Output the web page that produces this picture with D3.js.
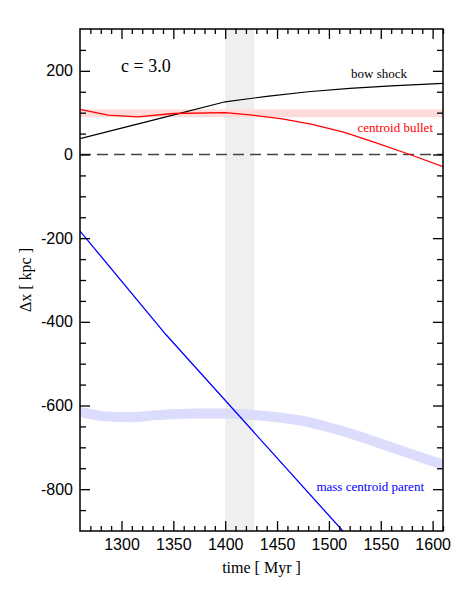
<!DOCTYPE html>
<html>
<head>
<meta charset="utf-8">
<script src="https://cdn.jsdelivr.net/npm/d3@7"></script>
<style>
  body { margin: 0; background: #fff; }
  svg { display: block; }
</style>
</head>
<body>
<div id="chart"></div>
<script>
// time [Myr] and offset [kpc]
const bowTime = [1260, 1300, 1340, 1400, 1440, 1480, 1520, 1560, 1610]
const bowVal = [38, 63, 88, 126, 139, 150, 158, 164, 170]

const bulletTime = [1260, 1287, 1316, 1350, 1400, 1426, 1455, 1484, 1515, 1542, 1578, 1610]
const bulletVal = [108, 94, 90, 98, 100, 94, 85, 72, 53, 31, 0, -29]

const parentTime = [1260, 1343, 1520]
const parentVal = [-183, -431, -918]

const bandTime = [1260, 1285, 1310, 1335, 1370, 1400, 1425, 1450, 1475, 1500, 1530, 1560, 1590, 1610]
const bandVal = [-615, -626, -628, -623, -619, -619, -622, -628, -637, -652, -674, -700, -725, -742]

const bulletBand = [89, 108]
const shadeTime = [1400, 1428]

const xMajor = [1300, 1350, 1400, 1450, 1500, 1550, 1600]
const yMajor = [-800, -600, -400, -200, 0, 200]

const W = 472, H = 591
const m = {left: 80, right: 29, top: 29, bottom: 60}

const svg = d3.select('#chart').append('svg')
  .attr('width', W).attr('height', H)

const x = d3.scaleLinear().domain([1260, 1610]).range([m.left, W - m.right])
const y = d3.scaleLinear().domain([-900, 300]).range([H - m.bottom, m.top])

svg.append('defs').append('clipPath').attr('id', 'clip')
  .append('rect')
  .attr('x', x.range()[0]).attr('y', y.range()[1])
  .attr('width', x.range()[1] - x.range()[0])
  .attr('height', y.range()[0] - y.range()[1])

const plot = svg.append('g').attr('clip-path', 'url(#clip)')

// grey time window
plot.append('rect')
  .attr('x', x(shadeTime[0])).attr('width', x(shadeTime[1]) - x(shadeTime[0]))
  .attr('y', y(300)).attr('height', y(-900) - y(300))
  .attr('fill', '#efefef')

// pink band
plot.append('rect')
  .attr('x', x(1260)).attr('width', x(1610) - x(1260))
  .attr('y', y(bulletBand[1])).attr('height', y(bulletBand[0]) - y(bulletBand[1]))
  .attr('fill', '#ffdcdc')

const line = d3.line().x(d => x(d[0])).y(d => y(d[1]))
const smooth = d3.line().x(d => x(d[0])).y(d => y(d[1])).curve(d3.curveMonotoneX)
const zip = (a, b) => a.map((t, i) => [t, b[i]])

// lavender band
plot.append('path')
  .attr('d', smooth(zip(bandTime, bandVal)))
  .attr('fill', 'none').attr('stroke', '#dcdcfc').attr('stroke-width', 10)

// zero line
plot.append('line')
  .attr('x1', x(1260)).attr('x2', x(1610))
  .attr('y1', y(0)).attr('y2', y(0))
  .attr('stroke', '#444').attr('stroke-width', 1.4)
  .attr('stroke-dasharray', '11,6')

plot.append('path')
  .attr('d', line(zip(bowTime, bowVal)))
  .attr('fill', 'none').attr('stroke', '#000').attr('stroke-width', 1.2)

plot.append('path')
  .attr('d', line(zip(bulletTime, bulletVal)))
  .attr('fill', 'none').attr('stroke', '#ff0000').attr('stroke-width', 1.3)

plot.append('path')
  .attr('d', line(zip(parentTime, parentVal)))
  .attr('fill', 'none').attr('stroke', '#0000ff').attr('stroke-width', 1.3)

// axes, ticks pointing inward
const numFont = '"Liberation Sans", Arial, sans-serif'
const serif = '"Liberation Serif", "Times New Roman", serif'
const fmt = d => String(d)

const styleAxis = g => {
  g.select('.domain').remove()
  g.selectAll('line').attr('stroke', '#000').attr('stroke-width', 1.3)
  g.selectAll('text').attr('font-family', numFont).attr('font-size', 16).attr('fill', '#000')
}

const xMinor = d3.range(1270, 1611, 10).filter(v => v % 50 !== 0)
const yMinor = d3.range(-850, 300, 50).filter(v => v % 200 !== 0)

svg.append('g').attr('transform', `translate(0,${y(-900)})`)
  .call(d3.axisBottom(x).tickValues(xMajor).tickFormat(fmt).tickSize(-10).tickPadding(8))
  .call(styleAxis)
svg.append('g').attr('transform', `translate(0,${y(-900)})`)
  .call(d3.axisBottom(x).tickValues(xMinor).tickFormat('').tickSize(-5))
  .call(styleAxis)
svg.append('g').attr('transform', `translate(0,${y(300)})`)
  .call(d3.axisTop(x).tickValues(xMajor).tickFormat('').tickSize(-10))
  .call(styleAxis)
svg.append('g').attr('transform', `translate(0,${y(300)})`)
  .call(d3.axisTop(x).tickValues(xMinor).tickFormat('').tickSize(-5))
  .call(styleAxis)

svg.append('g').attr('transform', `translate(${x(1260)},0)`)
  .call(d3.axisLeft(y).tickValues(yMajor).tickFormat(fmt).tickSize(-10).tickPadding(7))
  .call(styleAxis)
svg.append('g').attr('transform', `translate(${x(1260)},0)`)
  .call(d3.axisLeft(y).tickValues(yMinor).tickFormat('').tickSize(-6))
  .call(styleAxis)
svg.append('g').attr('transform', `translate(${x(1610)},0)`)
  .call(d3.axisRight(y).tickValues(yMajor).tickFormat('').tickSize(-10))
  .call(styleAxis)
svg.append('g').attr('transform', `translate(${x(1610)},0)`)
  .call(d3.axisRight(y).tickValues(yMinor).tickFormat('').tickSize(-6))
  .call(styleAxis)

// frame
svg.append('rect')
  .attr('x', x(1260)).attr('y', y(300))
  .attr('width', x(1610) - x(1260)).attr('height', y(-900) - y(300))
  .attr('fill', 'none').attr('stroke', '#000').attr('stroke-width', 1.5)

// labels
svg.append('text')
  .attr('x', (x(1260) + x(1610)) / 2).attr('y', 573)
  .attr('text-anchor', 'middle')
  .attr('font-family', serif).attr('font-size', 16)
  .text('time [ Myr ]')

svg.append('text')
  .attr('transform', `translate(31,${(y(300) + y(-900)) / 2}) rotate(-90)`)
  .attr('text-anchor', 'middle')
  .attr('font-family', serif).attr('font-size', 16)
  .text('Δx [ kpc ]')

svg.append('text')
  .attr('x', 121).attr('y', 72)
  .attr('font-family', serif).attr('font-size', 18)
  .text('c = 3.0')

const notes = [
  {text: 'bow shock', x: 407, y: 78, color: '#000'},
  {text: 'centroid bullet', x: 433, y: 132, color: '#ff0000'},
  {text: 'mass centroid parent', x: 424, y: 491, color: '#0000ff'}
]
svg.selectAll('text.note').data(notes).enter().append('text')
  .attr('class', 'note')
  .attr('x', d => d.x).attr('y', d => d.y)
  .attr('text-anchor', 'end')
  .attr('font-family', serif).attr('font-size', 13)
  .attr('fill', d => d.color)
  .text(d => d.text)
</script>
</body>
</html>
